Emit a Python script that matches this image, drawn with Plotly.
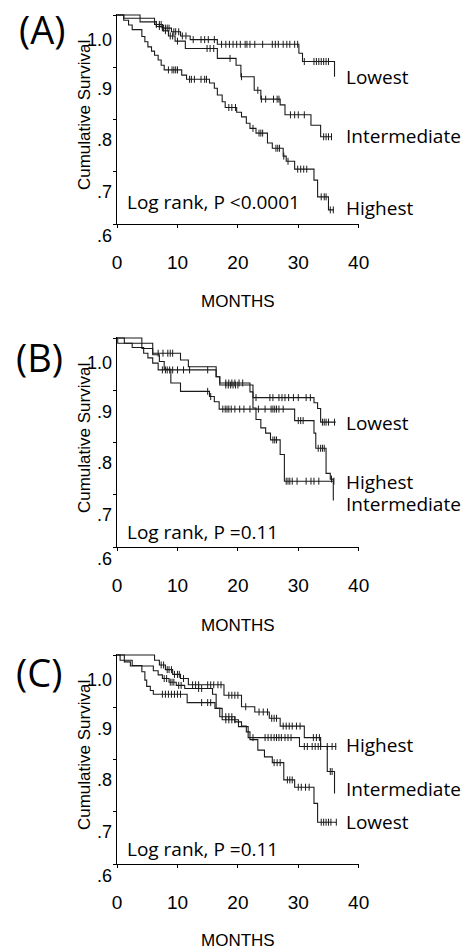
import plotly.graph_objects as go

# ---------------- data ----------------
MONTH_TICKS = [0, 10, 20, 30, 40]
SURV_TICKS = [0.6, 0.7, 0.8, 0.9, 1.0]
SURV_TICK_TEXT = ["1.0", ".9", ".8", ".7", ".6"]
GROUPS = ["Lowest", "Intermediate", "Highest"]
PANEL_TAGS = ["(A)", "(B)", "(C)"]
LOGRANK_TEXT = ["Log rank, P <0.0001", "Log rank, P =0.11", "Log rank, P =0.11"]
X_TITLE = "MONTHS"
Y_TITLE = "Cumulative Survival"

# Panel A
A_LOW_T = [1.1, 6.2, 7.5, 9.0, 10.5, 12.1, 16.6, 30.1, 30.7, 36.0]
A_LOW_S = [0.994, 0.982, 0.975, 0.968, 0.960, 0.953, 0.944, 0.927, 0.911, 0.882]
A_LOW_END = 36.0
A_LOW_CENS = [6.5, 7.0, 7.3, 7.7, 8.0, 8.3, 8.6, 9.4, 9.7, 10.2, 10.8, 11.4, 12.6, 13.9, 14.5,
              15.1, 16.1, 17.3, 18.0, 18.6, 19.2, 19.8, 20.4, 21.2, 21.5, 22.0, 22.8, 24.1,
              25.7, 26.2, 26.7, 27.5, 28.1, 28.6, 29.4, 29.9, 31.0, 32.6, 33.0, 33.4, 33.8,
              34.2, 34.6, 35.0]

A_INT_T = [3.8, 6.5, 7.5, 8.5, 9.6, 11.3, 16.6, 19.7, 20.5, 22.7, 23.8, 27.0, 27.8, 32.1, 33.7]
A_INT_S = [0.987, 0.978, 0.970, 0.960, 0.950, 0.936, 0.917, 0.904, 0.882, 0.856, 0.839, 0.828,
           0.809, 0.789, 0.767]
A_INT_END = 35.6
A_INT_CENS = [7.0, 8.0, 8.8, 9.2, 10.0, 14.9, 15.4, 16.0, 18.7, 20.6, 23.3, 23.9, 24.6, 25.9,
              26.5, 26.8, 28.7, 29.4, 30.0, 31.0, 34.2, 34.6, 35.0, 35.5]

A_HIGH_T = [1.1, 1.9, 2.5, 4.1, 4.6, 5.1, 5.7, 6.2, 6.8, 7.3, 7.8, 10.7, 11.5, 15.3, 16.1, 16.6,
            17.4, 17.9, 19.8, 20.6, 21.4, 22.0, 23.0, 24.9, 25.7, 27.5, 28.0, 29.4, 32.6, 33.2,
            35.0]
A_HIGH_S = [0.990, 0.981, 0.972, 0.959, 0.949, 0.939, 0.931, 0.923, 0.914, 0.904, 0.895, 0.885,
            0.877, 0.870, 0.860, 0.847, 0.834, 0.823, 0.814, 0.805, 0.793, 0.783, 0.774, 0.755,
            0.745, 0.730, 0.720, 0.705, 0.684, 0.652, 0.627]
A_HIGH_END = 35.9
A_HIGH_CENS = [8.5, 9.1, 9.4, 9.7, 10.0, 12.0, 12.3, 12.8, 13.9, 14.5, 14.8, 18.5, 19.0, 19.6,
               22.5, 23.5, 23.8, 24.1, 26.3, 26.6, 26.9, 27.6, 28.3, 29.9, 30.4, 30.9, 31.4,
               33.8, 34.3, 34.6, 35.3, 35.8]

# Panel B
B_LOW_T = [1.2, 5.9, 10.5, 11.8, 16.4, 17.0, 22.0, 22.5, 32.6, 33.2, 33.7]
B_LOW_S = [0.990, 0.971, 0.958, 0.945, 0.926, 0.914, 0.897, 0.886, 0.876, 0.865, 0.839]
B_LOW_END = 36.2
B_LOW_CENS = [6.8, 7.6, 8.4, 8.8, 9.2, 18.0, 18.5, 19.0, 19.5, 20.2, 20.8, 23.0, 25.3, 25.8,
              26.8, 27.3, 27.8, 28.4, 29.2, 30.0, 31.3, 32.0, 34.0, 34.3, 34.6, 35.0, 36.0]

B_INT_T = [4.1, 5.9, 7.0, 7.8, 8.9, 10.5, 15.3, 16.1, 16.9, 29.4, 32.6, 32.9, 34.6, 35.3, 35.8]
B_INT_S = [0.980, 0.968, 0.955, 0.940, 0.914, 0.898, 0.888, 0.878, 0.864, 0.842, 0.818, 0.789,
           0.741, 0.730, 0.689]
B_INT_END = 35.8
B_INT_CENS = [15.0, 15.5, 17.5, 17.9, 18.2, 18.5, 18.9, 19.5, 20.3, 21.0, 22.0, 23.4, 24.5,
              25.5, 25.8, 26.1, 26.4, 26.8, 27.5, 30.0, 30.4, 30.8, 33.3, 33.7, 34.0, 34.3, 35.5]

B_HIGH_T = [0.1, 2.5, 4.4, 5.1, 5.9, 6.8, 16.4, 17.0, 22.5, 23.0, 23.8, 24.6, 25.4, 27.0, 27.7]
B_HIGH_S = [0.990, 0.982, 0.971, 0.962, 0.952, 0.939, 0.926, 0.910, 0.866, 0.844, 0.828, 0.818,
            0.805, 0.777, 0.726]
B_HIGH_END = 35.9
B_HIGH_CENS = [7.5, 8.0, 8.3, 8.7, 9.2, 10.0, 11.0, 12.0, 15.0, 18.0, 18.4, 18.8, 19.2, 19.6,
               20.0, 25.8, 26.1, 26.4, 28.0, 28.3, 28.6, 29.0, 29.8, 31.3, 32.1, 32.6, 33.4, 35.9]

# Panel C
C_LOW_T = [0.5, 2.5, 4.1, 4.6, 4.9, 5.5, 6.0, 11.6, 16.2, 17.0, 19.5, 20.6, 21.4, 22.0, 23.3,
           24.4, 25.7, 27.6, 29.4, 32.6, 33.2]
C_LOW_S = [0.990, 0.980, 0.968, 0.952, 0.940, 0.932, 0.925, 0.909, 0.898, 0.882, 0.872, 0.864,
           0.853, 0.838, 0.818, 0.805, 0.794, 0.761, 0.747, 0.716, 0.680]
C_LOW_END = 36.3
C_LOW_CENS = [7.5, 8.0, 8.5, 9.0, 9.5, 10.0, 10.5, 14.0, 15.0, 15.5, 18.0, 18.5, 19.0, 26.0,
              26.5, 27.0, 28.2, 28.6, 29.0, 30.0, 30.5, 31.2, 31.8, 33.8, 34.2, 34.6, 35.0,
              35.4, 36.3]

C_INT_T = [1.2, 2.2, 6.0, 6.8, 7.5, 8.6, 9.8, 11.2, 15.8, 16.4, 17.4, 20.1, 21.7, 30.2, 34.8, 36.0]
C_INT_S = [0.987, 0.979, 0.970, 0.962, 0.955, 0.948, 0.942, 0.936, 0.925, 0.898, 0.876, 0.863,
           0.842, 0.825, 0.777, 0.735]
C_INT_END = 36.0
C_INT_CENS = [7.8, 8.2, 8.8, 9.1, 9.4, 10.2, 10.6, 13.5, 14.0, 18.0, 18.5, 19.0, 19.5, 22.5,
              24.5, 25.0, 25.5, 26.0, 26.4, 26.8, 27.2, 27.8, 28.3, 28.8, 31.0, 31.5, 32.3,
              32.8, 33.3, 33.7, 35.3, 35.6]

C_HIGH_T = [6.2, 7.0, 8.0, 9.2, 10.5, 11.8, 17.7, 20.6, 22.8, 25.2, 27.0, 31.0, 33.7]
C_HIGH_S = [0.990, 0.981, 0.972, 0.963, 0.955, 0.943, 0.923, 0.901, 0.891, 0.879, 0.864, 0.842,
            0.825]
C_HIGH_END = 36.3
C_HIGH_CENS = [7.3, 7.7, 8.3, 8.6, 9.0, 9.5, 10.0, 10.3, 11.0, 12.5, 13.0, 13.5, 15.0, 15.5,
               16.0, 16.7, 17.2, 18.5, 19.0, 19.5, 20.0, 21.3, 23.5, 24.2, 24.9, 25.6, 26.0,
               26.4, 27.5, 28.0, 28.5, 29.0, 29.7, 30.3, 32.5, 33.0, 33.5, 34.8, 35.6, 36.2]

PANELS = [
    {"Lowest": (A_LOW_T, A_LOW_S, A_LOW_END, A_LOW_CENS),
     "Intermediate": (A_INT_T, A_INT_S, A_INT_END, A_INT_CENS),
     "Highest": (A_HIGH_T, A_HIGH_S, A_HIGH_END, A_HIGH_CENS)},
    {"Lowest": (B_LOW_T, B_LOW_S, B_LOW_END, B_LOW_CENS),
     "Intermediate": (B_INT_T, B_INT_S, B_INT_END, B_INT_CENS),
     "Highest": (B_HIGH_T, B_HIGH_S, B_HIGH_END, B_HIGH_CENS)},
    {"Lowest": (C_LOW_T, C_LOW_S, C_LOW_END, C_LOW_CENS),
     "Intermediate": (C_INT_T, C_INT_S, C_INT_END, C_INT_CENS),
     "Highest": (C_HIGH_T, C_HIGH_S, C_HIGH_END, C_HIGH_CENS)},
]

# ---------------- layout / style ----------------
W, H = 475, 950
PLOT_LEFT, PLOT_RIGHT = 116, 366
PANEL_TOP = [14, 337, 654]          # pixel tops of the plotting areas
PANEL_BOTTOM = [224, 547, 864]      # pixel bottoms (x-axis lines)
Y_LABEL_OFFSET = [26, 75, 126, 178, 222]   # px below panel top for the y labels
CURVE_LABEL_Y = [
    {"Lowest": 0.881, "Intermediate": 0.768, "Highest": 0.631},
    {"Lowest": 0.837, "Intermediate": 0.682, "Highest": 0.724},
    {"Lowest": 0.680, "Intermediate": 0.744, "Highest": 0.828},
]
LOGRANK_Y = [0.642, 0.629, 0.629]
TAG_POS = [(38, 29), (36, 357), (35, 672)]
MONTHS_OFFSET = [78, 78, 76]

LINE_COLOR = "#1a1a1a"
SANS = "Liberation Sans, Arial, sans-serif"
HUMAN = "Open Sans, Noto Sans, sans-serif"


def step_value(times, vals, t):
    v = 1.0
    for ti, vi in zip(times, vals):
        if ti <= t:
            v = vi
    return v


fig = go.Figure()
annotations = []
layout_axes = {}

for i, panel in enumerate(PANELS):
    n = "" if i == 0 else str(i + 1)
    xa, ya = "x" + n, "y" + n
    for g in GROUPS:
        t, s, end, cens = panel[g]
        xs = [0.0] + list(t) + [end]
        ys = [1.0] + list(s) + [s[-1]]
        fig.add_trace(go.Scatter(x=xs, y=ys, mode="lines", line_shape="hv",
                                 line=dict(color=LINE_COLOR, width=1.1),
                                 xaxis=xa, yaxis=ya, showlegend=False, hoverinfo="skip"))
        cy = [step_value(t, s, c) for c in cens]
        fig.add_trace(go.Scatter(x=cens, y=cy, mode="markers",
                                 marker=dict(symbol="line-ns", size=5,
                                             line=dict(color=LINE_COLOR, width=1)),
                                 xaxis=xa, yaxis=ya, showlegend=False, hoverinfo="skip"))
        annotations.append(dict(text=g, x=37.5, y=CURVE_LABEL_Y[i][g], xref=xa, yref=ya,
                                xanchor="left", yanchor="middle", showarrow=False,
                                font=dict(family=HUMAN, size=19, color="black")))

    dom_top = 1 - PANEL_TOP[i] / H
    dom_bot = 1 - PANEL_BOTTOM[i] / H
    layout_axes["xaxis" + n] = dict(
        domain=[PLOT_LEFT / W, PLOT_RIGHT / W], anchor=ya, range=[0, 40],
        tickvals=MONTH_TICKS, ticktext=[str(v) for v in MONTH_TICKS],
        ticks="outside", ticklen=3, tickcolor="black", showline=True, linecolor="black",
        linewidth=1, showgrid=False, zeroline=False, ticklabelstandoff=18,
        tickfont=dict(family=SANS, size=19, color="black"))
    layout_axes["yaxis" + n] = dict(
        domain=[dom_bot, dom_top], anchor=xa, range=[0.6, 1.002],
        tickvals=SURV_TICKS, showticklabels=False,
        ticks="outside", ticklen=3, tickcolor="black", showline=True, linecolor="black",
        linewidth=1, showgrid=False, zeroline=False)

    for txt, off in zip(SURV_TICK_TEXT, Y_LABEL_OFFSET):
        annotations.append(dict(text=txt, x=113 / W, y=1 - (PANEL_TOP[i] + off) / H,
                                xref="paper", yref="paper",
                                xanchor="right", yanchor="middle", showarrow=False,
                                font=dict(family=SANS, size=18, color="black")))
    annotations.append(dict(text=Y_TITLE, x=83 / W, y=0.809, xref="paper", yref=ya,
                            textangle=-90, xanchor="center", yanchor="middle", showarrow=False,
                            font=dict(family=SANS, size=17, color="black")))
    annotations.append(dict(text=X_TITLE, x=20, y=1 - (PANEL_BOTTOM[i] + MONTHS_OFFSET[i]) / H,
                            xref=xa, yref="paper", xanchor="center", yanchor="middle",
                            showarrow=False, font=dict(family=SANS, size=17, color="black")))
    annotations.append(dict(text=LOGRANK_TEXT[i], x=1.3, y=LOGRANK_Y[i], xref=xa, yref=ya,
                            xanchor="left", yanchor="middle", showarrow=False,
                            font=dict(family=HUMAN, size=19, color="black")))
    tx, ty = TAG_POS[i]
    annotations.append(dict(text=PANEL_TAGS[i], x=tx / W, y=1 - ty / H, xref="paper",
                            yref="paper", xanchor="center", yanchor="middle", showarrow=False,
                            font=dict(family=HUMAN, size=38, color="black")))

fig.update_layout(width=W, height=H, margin=dict(l=0, r=0, t=0, b=0),
                  paper_bgcolor="white", plot_bgcolor="white",
                  annotations=annotations, **layout_axes)

fig.write_html("out.html", config={"displayModeBar": False},
               post_script="document.body.style.margin='0px';document.body.style.padding='0px';")
